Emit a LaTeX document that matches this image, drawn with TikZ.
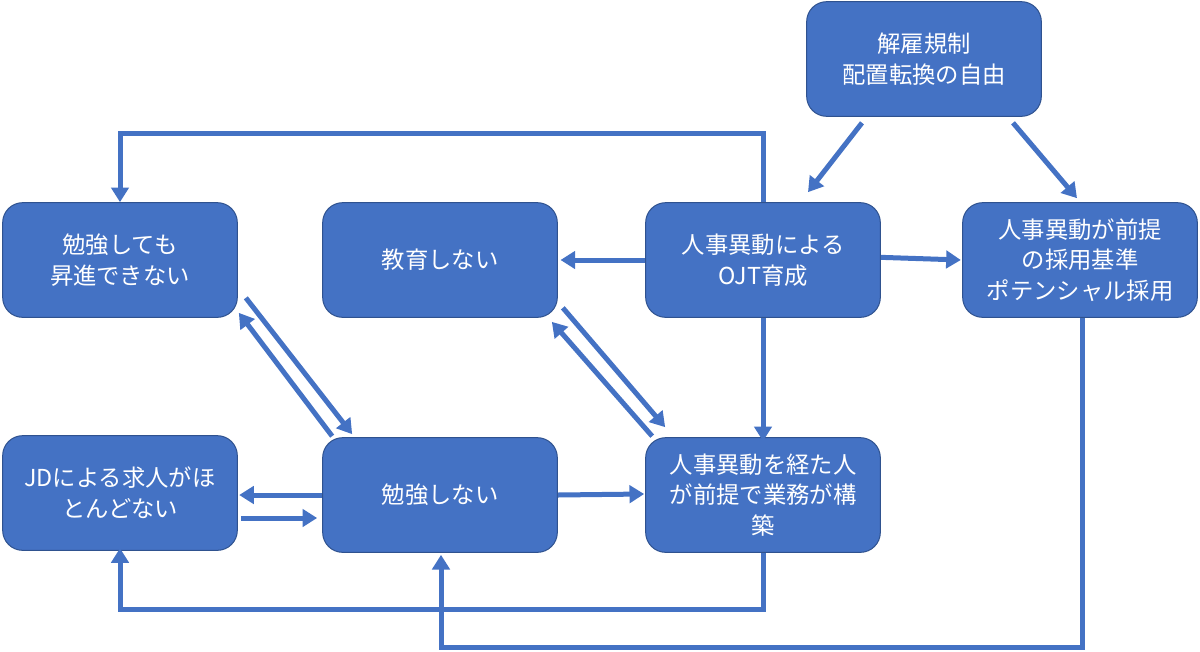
\documentclass[tikz,border=0pt]{standalone}
\usepackage{fontspec}
\setmainfont{Noto Sans CJK JP}
\usetikzlibrary{arrows.meta}
\definecolor{boxfill}{HTML}{4472C4}
\definecolor{boxline}{HTML}{2F528F}
\begin{document}
\begin{tikzpicture}[x=0.75pt,y=-0.75pt,
  box/.style={draw=boxline,line width=0.75pt,fill=boxfill,rounded corners=15pt,
    minimum width=176pt,minimum height=86pt,inner sep=0pt,align=center,
    text=white,font=\fontsize{17.5}{23}\selectfont},
  arr/.style={draw=boxfill,line width=3.75pt,line join=miter,
    -{Triangle[length=11pt,width=13pt]}}]
\useasboundingbox (0,0) rectangle (1200,651);
\node[box] (kaiko) at (924,59) {解雇規制\\配置転換の自由};
\node[box] (benk1) at (120,260) {勉強しても\\昇進できない};
\node[box] (kyoiku) at (440,260) {教育しない};
\node[box] (ojt) at (763,260) {人事異動による\\OJT育成};
\node[box] (saiyo) at (1080,260) {人事異動が前提\\の採用基準\\ポテンシャル採用};
\node[box] (jd) at (120,493) {JDによる求人がほ\\とんどない};
\node[box] (benk2) at (440,495) {勉強しない};
\node[box] (gyomu) at (763,495) {人事異動を経た人\\が前提で業務が構\\築};
% connectors
\draw[arr] ([shift={(-62,6)}]kaiko.south) -- ([shift={(45,-10)}]ojt.north);
\draw[arr] ([shift={(89,6)}]kaiko.south) -- ([shift={(-3,-4)}]saiyo.north);
\draw[arr] (ojt.west) -- ([xshift=2]kyoiku.east);
\draw[arr] ([yshift=2]ojt.east) -- ([xshift=-1]saiyo.west);
\draw[arr] (ojt.north) -- ++(0,-69) -| (benk1.north);
\draw[arr] (ojt.south) -- ([yshift=-3]gyomu.north);
\draw[arr] ([shift={(8,-20)}]benk1.south east) -- ([shift={(30,-3)}]benk2.north west);
\draw[arr] ([shift={(10,-1)}]benk2.north west) -- ([shift={(1,-5)}]benk1.south east);
\draw[arr] ([shift={(5,-10)}]kyoiku.south east) -- ([shift={(20,-10)}]gyomu.north west);
\draw[arr] ([shift={(7,-1)}]gyomu.north west) -- ([shift={(-6,4)}]kyoiku.south east);
\draw[arr] (benk2.west) -- ([xshift=1]benk2.west -| jd.east);
\draw[arr] ([shift={(3,25)}]jd.east) -- ([shift={(-5,25)}]jd.east -| benk2.west);
\draw[arr] (benk2.east) -- ([shift={(-1,-1)}]gyomu.west);
\draw[arr] (gyomu.south) -- ++(0,57) -| ([yshift=2]jd.south);
\draw[arr] ([xshift=2]saiyo.south) -- ++(0,330) -| ([shift={(1,2)}]benk2.south);
\end{tikzpicture}
\end{document}
